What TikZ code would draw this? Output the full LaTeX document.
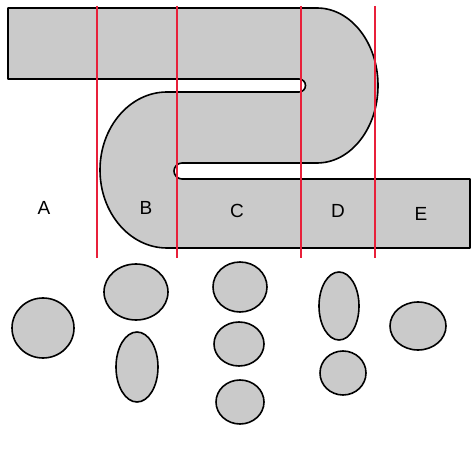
\documentclass[tikz,border=0pt]{standalone}
\usepackage{fontspec}
\setmainfont{Liberation Sans}
\usepackage{tikz}
\definecolor{band}{RGB}{202,202,202}
\definecolor{cutred}{RGB}{232,32,58}

\begin{document}
\begin{tikzpicture}[x=1pt,y=1pt,
  strip/.style={draw=black,line width=1.6pt,fill=band,line join=round},
  blob/.style={draw=black,line width=1.6pt,fill=band},
  cutline/.style={draw=cutred,line width=1.2pt},
  zone/.style={font=\fontsize{19}{22}\selectfont}]
 \useasboundingbox (0,0) rectangle (471,-449);
 % folded strip
 \draw[strip] (8,-8) -- (317,-8)
   arc[start angle=90,end angle=-90,x radius=61,y radius=77.5] -- (182,-163)
   arc[start angle=90,end angle=270,radius=8] -- (470,-179) -- (470,-248) -- (167,-248)
   arc[start angle=270,end angle=90,x radius=67,y radius=78] -- (299,-92)
   arc[start angle=-90,end angle=90,radius=6.5] -- (8,-79) -- cycle;
 % cuts
 \foreach \x in {97,177,301,375} \draw[cutline] (\x,-6) -- (\x,-258);
 \node[zone] (la) at (44,-208) {A};
 \node[zone] (lb) at (146,-208) {B};
 \node[zone] (lc) at (237,-211) {C};
 \node[zone] (ld) at (338,-211) {D};
 \node[zone] (le) at (421,-214) {E};
 % pieces
 \draw[blob] (43,-328) ellipse [x radius=31,y radius=30];
 \draw[blob] (136,-292) ellipse [x radius=32,y radius=28];
 \draw[blob] (137,-367) ellipse [x radius=21,y radius=35];
 \draw[blob] (240,-287) ellipse [x radius=27,y radius=25];
 \draw[blob] (239,-344) ellipse [x radius=25,y radius=22];
 \draw[blob] (240,-402) ellipse [x radius=24,y radius=22];
 \draw[blob] (339,-306) ellipse [x radius=20,y radius=34];
 \draw[blob] (343,-373) ellipse [x radius=23,y radius=22];
 \draw[blob] (418,-326) ellipse [x radius=28,y radius=24];
\end{tikzpicture}
\end{document}
